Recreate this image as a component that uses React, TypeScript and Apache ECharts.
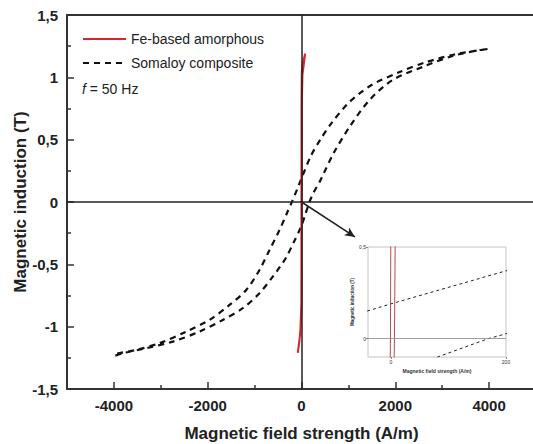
import React, { useEffect, useRef } from 'react';
import * as echarts from 'echarts';

// Somaloy composite loop: descending (upper) branch
const somaloyUpperH = [3966, 3305, 2665, 2090, 1493, 1023, 640, 400, 200, 0, -100, -200, -300, -469, -682, -896, -1179, -1535, -1962, -2459, -3028, -3525, -3987];
const somaloyUpperB = [1.227, 1.187, 1.123, 1.042, 0.938, 0.802, 0.633, 0.5, 0.37, 0.19, 0.095, 0.005, -0.08, -0.225, -0.385, -0.545, -0.706, -0.826, -0.946, -1.04, -1.133, -1.187, -1.227];
// Somaloy composite loop: ascending (lower) branch
const somaloyLowerH = [-3987, -3810, -3311, -2744, -2175, -1678, -1252, -896, -612, -469, -327, -149, 0, 81, 169, 250, 384, 469, 682, 1023, 1450, 1940, 2580, 3220, 3795, 3966];
const somaloyLowerB = [-1.235, -1.213, -1.173, -1.12, -1.04, -0.946, -0.852, -0.732, -0.599, -0.525, -0.445, -0.31, -0.19, -0.1, 0, 0.07, 0.16, 0.225, 0.39, 0.601, 0.818, 0.978, 1.083, 1.171, 1.219, 1.227];

// Fe-based amorphous loop
const feAscH = [-79, -45, -15, 2, 6, 8, 20, 78];
const feAscB = [-1.21, -1.12, -0.98, -0.8, 0, 0.8, 1.02, 1.19];
const feDescH = [78, 30, 6, 0, -1, -3, -25, -79];
const feDescB = [1.19, 1.12, 1.05, 0.8, 0, -0.8, -1.05, -1.21];

// Axis ticks
const xMajorTicks = [-4000, -2000, 0, 2000, 4000];
const xMinorTicks = [-3000, -1000, 1000, 3000];
const insetXTicks = [0, 200];
const insetYTicks = [0, 0.5];

// Arrow annotation (data units)
const arrowFrom = [0, 0];
const arrowTo = [1140, -0.28];

const seriesNames = ['Fe-based amorphous', 'Somaloy composite'];

const zip = (h: number[], b: number[]) => h.map((v, i) => [v, b[i]]);
const comma = (v: number) => String(+Number(v).toFixed(2)).replace('.', ',');

export default function App() {
  const ref = useRef<HTMLDivElement>(null);
  useEffect(() => {
    const chart = echarts.init(ref.current as HTMLDivElement, null, { renderer: 'svg' });
    const somaloy = [...zip(somaloyUpperH, somaloyUpperB), ...zip(somaloyLowerH, somaloyLowerB)];
    const fe = [...zip(feAscH, feAscB), ...zip(feDescH, feDescB)];
    const font = '"Liberation Sans", Arial, sans-serif';
    const axisColor = '#333';

    chart.setOption({
      animation: false,
      backgroundColor: '#fff',
      textStyle: { fontFamily: font },
      grid: [
        { left: 67, right: -3, top: 15, bottom: 55, outerBoundsMode: 'none', containLabel: false },
        { left: 368, top: 247, width: 138, height: 110, outerBoundsMode: 'none', containLabel: false, show: true, borderColor: '#c4c4c4', borderWidth: 1, backgroundColor: '#fff' },
      ],
      legend: {
        data: seriesNames,
        orient: 'vertical',
        left: 82,
        top: 32,
        padding: 0,
        itemWidth: 43,
        itemHeight: 14,
        itemGap: 10,
        selectedMode: false,
        itemStyle: { opacity: 0 },
        textStyle: { fontSize: 14, fontFamily: font, color: '#222' },
      },
      graphic: [
        {
          type: 'text',
          left: 82,
          top: 82,
          style: {
            text: '{i|f} = 50 Hz',
            fontSize: 14,
            fontFamily: font,
            fill: '#222',
            rich: { i: { fontStyle: 'italic', fontSize: 14, fontFamily: font, fill: '#222' } },
          },
        },
      ],
      xAxis: [
        {
          gridIndex: 0,
          type: 'value',
          min: -5000,
          max: 5000,
          position: 'bottom',
          axisLine: { show: true, onZero: false, lineStyle: { color: axisColor, width: 2 } },
          axisTick: { show: true, customValues: xMajorTicks, inside: true, length: 7, lineStyle: { color: axisColor, width: 1.5 } },
          axisLabel: { customValues: xMajorTicks, formatter: (v: number) => String(v), fontSize: 15, fontWeight: 'bold', color: '#222', margin: 9, fontFamily: font },
          splitLine: { show: false },
          name: 'Magnetic field strength (A/m)',
          nameLocation: 'middle',
          nameGap: 36,
          nameTextStyle: { fontSize: 17, fontWeight: 'bold', color: '#222', fontFamily: font },
        },
        {
          gridIndex: 0,
          type: 'value',
          min: -5000,
          max: 5000,
          position: 'bottom',
          axisLine: { show: false, onZero: false },
          axisTick: { show: true, customValues: xMinorTicks, inside: true, length: 4, lineStyle: { color: axisColor, width: 1.5 } },
          axisLabel: { show: false },
          splitLine: { show: false },
        },
        {
          gridIndex: 0,
          type: 'value',
          min: -5000,
          max: 5000,
          position: 'top',
          axisLine: { show: true, onZero: false, lineStyle: { color: axisColor, width: 2 } },
          axisTick: { show: false },
          axisLabel: { show: false },
          splitLine: { show: false },
        },
        {
          gridIndex: 1,
          type: 'value',
          min: -40,
          max: 200,
          axisLine: { show: false, onZero: false },
          axisTick: { show: true, customValues: insetXTicks, length: 2, lineStyle: { color: '#666', width: 0.8 } },
          axisLabel: { customValues: insetXTicks, formatter: (v: number) => String(v), fontSize: 5, color: '#333', margin: 2, fontFamily: font },
          splitLine: { show: false },
          name: 'Magnetic field strength (A/m)',
          nameLocation: 'middle',
          nameGap: 11,
          nameTextStyle: { fontSize: 5, fontWeight: 'bold', color: '#333', fontFamily: font },
        },
      ],
      yAxis: [
        {
          gridIndex: 0,
          type: 'value',
          min: -1.5,
          max: 1.5,
          interval: 0.5,
          axisLine: { show: true, onZero: false, lineStyle: { color: axisColor, width: 2 } },
          axisTick: { show: true, inside: true, length: 7, lineStyle: { color: axisColor, width: 1.5 } },
          minorTick: { show: true, splitNumber: 2, length: 4, lineStyle: { color: axisColor, width: 1.5 } },
          axisLabel: { formatter: comma, fontSize: 15, fontWeight: 'bold', color: '#222', margin: 9, fontFamily: font },
          splitLine: { show: false },
          minorSplitLine: { show: false },
          name: 'Magnetic induction (T)',
          nameLocation: 'middle',
          nameGap: 38,
          nameMoveOverlap: false,
          nameTextStyle: { fontSize: 17, fontWeight: 'bold', color: '#222', fontFamily: font },
        },
        {
          gridIndex: 1,
          type: 'value',
          min: -0.1,
          max: 0.5,
          axisLine: { show: false, onZero: false },
          axisTick: { show: true, customValues: insetYTicks, length: 2, lineStyle: { color: '#666', width: 0.8 } },
          axisLabel: { customValues: insetYTicks, formatter: comma, fontSize: 5, color: '#333', margin: 2, fontFamily: font },
          splitLine: { show: false },
          name: 'Magnetic induction (T)',
          nameLocation: 'middle',
          nameGap: 9,
          nameTextStyle: { fontSize: 4.5, fontWeight: 'bold', color: '#333', fontFamily: font },
        },
      ],
      series: [
        {
          name: seriesNames[1],
          type: 'line',
          xAxisIndex: 0,
          yAxisIndex: 0,
          data: somaloy,
          symbol: 'none',
          showSymbol: false,
          smooth: 0.3,
          z: 3,
          lineStyle: { color: '#111', width: 2.2, type: [6, 5] },
          itemStyle: { color: '#111' },
          markLine: {
            silent: true,
            symbol: ['none', 'none'],
            label: { show: false },
            lineStyle: { color: '#222', width: 1.5, type: 'solid' },
            data: [
              { xAxis: 0 },
              { yAxis: 0 },
              [
                { coord: arrowFrom, symbol: 'none' },
                { coord: arrowTo, symbol: 'arrow', symbolSize: [7, 10] },
              ],
            ],
          },
        },
        {
          name: seriesNames[0],
          type: 'line',
          xAxisIndex: 0,
          yAxisIndex: 0,
          data: fe,
          symbol: 'none',
          showSymbol: false,
          z: 4,
          lineStyle: { color: '#d9262c', width: 2 },
          itemStyle: { color: '#d9262c' },
        },
        {
          name: seriesNames[1],
          type: 'line',
          xAxisIndex: 3,
          yAxisIndex: 1,
          data: somaloy,
          symbol: 'none',
          showSymbol: false,
          z: 3,
          lineStyle: { color: '#222', width: 1, type: [3, 3] },
          markLine: {
            silent: true,
            symbol: ['none', 'none'],
            label: { show: false },
            lineStyle: { color: '#888', width: 0.8, type: 'solid' },
            data: [{ yAxis: 0 }],
          },
        },
        {
          name: seriesNames[0],
          type: 'line',
          xAxisIndex: 3,
          yAxisIndex: 1,
          data: fe,
          symbol: 'none',
          showSymbol: false,
          z: 4,
          lineStyle: { color: '#b84a4a', width: 1 },
        },
      ],
    });
    return () => chart.dispose();
  }, []);
  return <div ref={ref} style={{ position: 'absolute', left: 0, top: 0, width: 533, height: 444 }} />;
}
